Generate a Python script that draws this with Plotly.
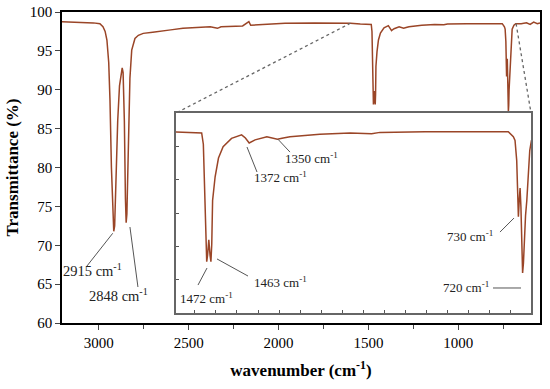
import plotly.graph_objects as go

# ---------------- data ----------------
wavenumber = [3205, 3100, 3030, 2994, 2977, 2965, 2955, 2945, 2938, 2930, 2922, 2917, 2912,
              2905, 2895, 2885, 2875, 2870, 2865, 2858, 2852, 2848, 2844, 2838, 2832, 2827,
              2817, 2799, 2780, 2753, 2700, 2660, 2600, 2532, 2450, 2380, 2340, 2320, 2200,
              2165, 2155, 2100, 2000, 1964, 1800, 1650, 1600, 1545, 1500, 1488, 1484, 1480,
              1477, 1474, 1472, 1470, 1467, 1464, 1462, 1460, 1458, 1452, 1444, 1433, 1413,
              1389, 1380, 1371, 1364, 1357, 1329, 1315, 1304, 1290, 1274, 1203, 1131, 1080,
              1060, 953, 850, 755, 743, 739, 735, 733, 731, 729, 727, 725, 723, 721, 719,
              717, 714, 711, 704, 700, 690, 680, 650, 620, 600, 580, 560, 545]
transmittance = [98.75, 98.7, 98.6, 98.5, 98.1, 97.5, 96.4, 93.5, 88.7, 80.0, 73.5, 71.8, 72.5,
                 78.0, 86.0, 90.5, 92.5, 92.8, 92.2, 86.0, 76.0, 72.9, 74.0, 80.0, 87.0, 91.5,
                 95.1, 96.6, 97.0, 97.25, 97.4, 97.55, 97.7, 97.9, 98.0, 98.1, 97.9, 98.1, 98.2,
                 98.75, 98.3, 98.35, 98.5, 98.55, 98.6, 98.6, 98.55, 98.45, 98.45, 98.45, 98.4, 97.5,
                 93.0, 89.0, 88.1, 88.6, 89.85, 88.6, 88.1, 89.5, 93.0, 94.9, 96.4, 97.3, 97.97,
                 98.25, 98.0, 97.6, 97.75, 97.85, 98.1, 98.0, 97.9, 98.0, 98.1, 98.3, 98.4, 98.35,
                 98.45, 98.5, 98.5, 98.5, 98.1, 97.8, 96.2, 93.5, 91.7, 93.0, 94.0, 92.5, 89.0, 87.2, 88.0,
                 90.0, 91.8, 93.0, 97.0, 97.8, 98.3, 98.5, 98.5, 98.6, 98.4, 98.7, 98.5, 98.6]

main_x_ticks = [3000, 2500, 2000, 1500, 1000]
main_y_ticks = [60, 65, 70, 75, 80, 85, 90, 95, 100]

# peak labels: text, anchor wavenumber, anchor transmittance, which panel
peak_labels = ["2915 cm<sup>-1</sup>", "2848 cm<sup>-1</sup>", "1472 cm<sup>-1</sup>",
               "1463 cm<sup>-1</sup>", "1372 cm<sup>-1</sup>", "1350 cm<sup>-1</sup>",
               "730 cm<sup>-1</sup>", "720 cm<sup>-1</sup>"]
peak_wn = [2917, 2848, 1472, 1462, 1371, 1304, 731, 721]
peak_t = [71.8, 72.9, 88.1, 88.1, 97.6, 97.9, 91.7, 87.2]
peak_panel = ["main", "main", "inset", "inset", "inset", "inset", "inset", "inset"]

# zoom window shown by the inset (start / end on the main curve)
zoom_from = (1600, 98.55)
zoom_to = (678, 98.5)

# ---------------- styling / layout ----------------
# pixel offsets (dx right, dy down) for leader line start/end and label centre
label_offsets = [
    ((-1, 2), (-27, 35), (-21, 39), 14.5),
    ((3.8, 4.3), (11.8, 64.3), (-8, 72), 14.5),
    ((0.3, 6.3), (-8.7, 23.3), (-0.2, 36), 13),
    ((6.1, -2.8), (37.1, 14.3), (70, 20), 13),
    ((-2.2, 4), (7.8, 29), (31.3, 34), 13),
    ((0.6, 0), (12.6, 12.8), (34.6, 18.8), 13),
    ((-4.4, 1.3), (-18.4, 15.3), (-47.9, 19.3), 13),
    ((-1.6, 15), (-29.6, 15), (-56.6, 14), 13),
]

FONT = "Liberation Serif, Times New Roman, serif"
LINE_COLOR = "#9a4527"
x_range = [3205, 545]
y_range = [60, 100]
x2_range = [1545, 701]
y2_range = [84, 100]
inset_xdom = [0.2385, 0.9812]
inset_ydom = [0.0322, 0.6752]

fig = go.Figure()
fig.add_trace(go.Scatter(x=wavenumber, y=transmittance, mode="lines",
                         line=dict(color=LINE_COLOR, width=1.5), xaxis="x", yaxis="y",
                         showlegend=False, hoverinfo="skip"))
fig.add_trace(go.Scatter(x=wavenumber, y=transmittance, mode="lines",
                         line=dict(color=LINE_COLOR, width=1.5), xaxis="x2", yaxis="y2",
                         showlegend=False, hoverinfo="skip"))

shapes = []
annotations = []
for txt, wn, t, panel, offs in zip(peak_labels, peak_wn, peak_t, peak_panel, label_offsets):
    (sx, sy), (ex, ey), (tx, ty), fs = offs
    xr, yr = ("x", "y") if panel == "main" else ("x2", "y2")
    shapes.append(dict(type="line", xref=xr, yref=yr, xsizemode="pixel", ysizemode="pixel",
                       xanchor=wn, yanchor=t, x0=sx, x1=ex, y0=-sy, y1=-ey,
                       line=dict(color="#555555", width=1)))
    annotations.append(dict(x=wn, y=t, xref=xr, yref=yr, text=txt, showarrow=False,
                            xshift=tx, yshift=-ty, font=dict(family=FONT, size=fs, color="#222")))


def main_coord(fx, fy):
    return (x_range[0] + (x_range[1] - x_range[0]) * fx,
            y_range[0] + (y_range[1] - y_range[0]) * fy)


tl = main_coord(inset_xdom[0], inset_ydom[1])
tr = main_coord(inset_xdom[1], inset_ydom[1])
shapes.append(dict(type="line", xref="x", yref="y", x0=zoom_from[0], y0=zoom_from[1],
                   x1=tl[0], y1=tl[1], line=dict(color="#666666", width=1.3, dash="dot"),
                   layer="above"))
shapes.append(dict(type="line", xref="x", yref="y", x0=zoom_to[0], y0=zoom_to[1],
                   x1=tr[0], y1=tr[1], line=dict(color="#666666", width=1.3, dash="dot"),
                   layer="above"))

fig.update_layout(
    width=550, height=389,
    margin=dict(l=62, r=10, t=12, b=66, autoexpand=False),
    paper_bgcolor="white", plot_bgcolor="white",
    font=dict(family=FONT, size=15, color="black"),
    xaxis=dict(domain=[0, 1], range=x_range, tickvals=main_x_ticks, ticks="outside",
               ticklen=5, tickwidth=1.3, showline=True, linecolor="black", linewidth=1.6,
               mirror=True, showgrid=False, zeroline=False, automargin=False,
               minor=dict(ticks="outside", ticklen=4, tickwidth=1.2, dtick=250, tick0=0,
                          showgrid=False),
               title=dict(text="<b>wavenumber (cm<sup>-1</sup>)</b>",
                          font=dict(family=FONT, size=17), standoff=14),
               tickfont=dict(family=FONT, size=15)),
    yaxis=dict(domain=[0, 1], range=y_range, tickvals=main_y_ticks, ticks="outside",
               ticklen=5, tickwidth=1.3, showline=True, linecolor="black", linewidth=1.6,
               mirror=True, showgrid=False, zeroline=False, automargin=False,
               title=dict(text="<b>Transmittance (%)</b>",
                          font=dict(family=FONT, size=17), standoff=7),
               tickfont=dict(family=FONT, size=15)),
    xaxis2=dict(domain=inset_xdom, anchor="y2", range=x2_range, tickmode="linear",
                tick0=0, dtick=50, ticks="inside", ticklen=3, tickcolor="#555",
                showticklabels=False, showline=True, linecolor="#666666", linewidth=1.5,
                mirror=True, showgrid=False, zeroline=False, automargin=False),
    yaxis2=dict(domain=inset_ydom, anchor="x2", range=y2_range, tickmode="linear",
                tick0=y2_range[0], dtick=(y2_range[1] - y2_range[0]) / 6, ticks="inside",
                ticklen=3, tickcolor="#555", showticklabels=False, showline=True,
                linecolor="#666666", linewidth=1.5, mirror=True, showgrid=False,
                zeroline=False, automargin=False),
    shapes=shapes,
    annotations=annotations,
)

fig.write_html("out.html", config={"displayModeBar": False},
               post_script="document.body.style.margin='0px';"
                           "document.body.style.overflow='hidden';")
